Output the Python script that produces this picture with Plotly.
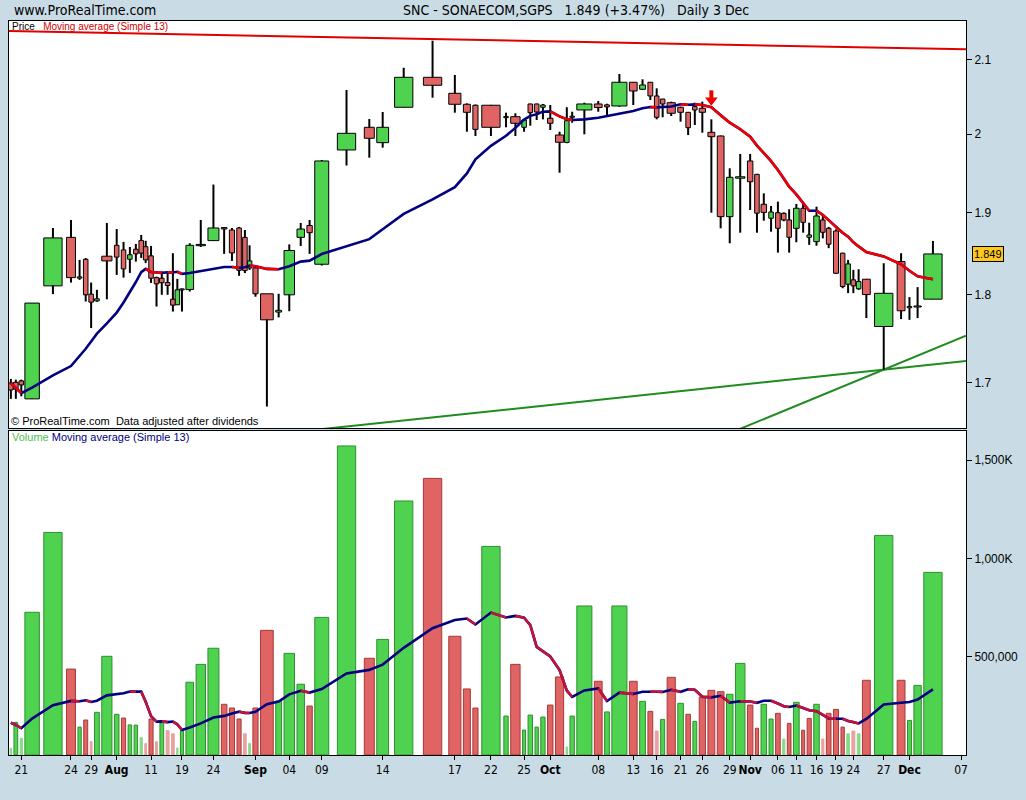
import numpy as np
import pandas as pd
import plotly.graph_objects as go

# ---------------- data (SNC daily, 2008) ----------------
opens = [1.6993, 1.7000, 1.7016, 1.6817, 1.8108, 1.8692, 1.8200, 1.8426, 1.8010, 1.7931,
         1.8463, 1.8595, 1.8539, 1.8426, 1.8547, 1.8652, 1.8578, 1.8467, 1.8206, 1.8199,
         1.8147, 1.7951, 1.7885, 1.8062, 1.8065, 1.8590, 1.8652, 1.8812, 1.8782, 1.8807,
         1.8692, 1.8322, 1.8322, 1.8014, 1.7800, 1.8002, 1.8692, 1.8837, 1.8366, 1.9792,
         2.0088, 1.9887, 2.0353, 2.0756, 2.0540, 2.0393, 2.0380, 2.0380, 2.0215, 2.0228,
         2.0088, 2.0397, 2.0397, 2.0353, 2.0207, 1.9987, 1.9890, 2.0220, 2.0317, 2.0397,
         2.0385, 2.0370, 2.0689, 2.0594, 2.0689, 2.0504, 2.0463, 2.0414, 2.0353, 2.0286,
         2.0361, 2.0340, 2.0022, 1.9974, 1.8947, 1.9430, 1.9650, 1.9479, 1.9101, 1.8927,
         1.8996, 1.8988, 1.8906, 1.8803, 1.9051, 1.8693, 1.8640, 1.8906, 1.8803, 1.8770,
         1.8499, 1.8128, 1.8179, 1.8073, 1.8187, 1.7633, 1.8398, 1.7850, 1.7860, 1.7951]
highs = [1.7038, 1.7030, 1.7030, 1.7905, 1.8807, 1.8906, 1.8418, 1.8440, 1.8147, 1.8061,
         1.8869, 1.8794, 1.8636, 1.8575, 1.8612, 1.8721, 1.8650, 1.8587, 1.8218, 1.8278,
         1.8278, 1.8499, 1.8191, 1.8075, 1.8620, 1.8906, 1.9349, 1.8815, 1.8807, 1.8820,
         1.8782, 1.8595, 1.8340, 1.8014, 1.8014, 1.8606, 1.8869, 1.8906, 1.9663, 2.0584,
         2.0197, 2.0290, 2.0886, 2.1259, 2.0788, 2.0405, 2.0390, 2.0385, 2.0281, 2.0273,
         2.0190, 2.0400, 2.0400, 2.0397, 2.0383, 2.0030, 2.0353, 2.0294, 2.0414, 2.0437,
         2.0400, 2.0801, 2.0692, 2.0729, 2.0692, 2.0607, 2.0465, 2.0428, 2.0360, 2.0290,
         2.0414, 2.0428, 2.0193, 1.9980, 1.9556, 1.9741, 1.9741, 1.9485, 1.9238, 1.9080,
         1.9134, 1.9000, 1.9039, 1.9105, 1.9105, 1.8872, 1.9071, 1.8960, 1.8820, 1.8790,
         1.8505, 1.8418, 1.8298, 1.8306, 1.8190, 1.8378, 1.8499, 1.7975, 1.8093, 1.8648]
lows = [1.6817, 1.6817, 1.6845, 1.6817, 1.8010, 1.8147, 1.8179, 1.7923, 1.7615, 1.7920,
        1.7949, 1.8238, 1.8206, 1.8262, 1.8398, 1.8442, 1.8380, 1.8143, 1.7864, 1.8002,
        1.8002, 1.7806, 1.7885, 1.7806, 1.8040, 1.8575, 1.8648, 1.8491, 1.8406, 1.8227,
        1.8260, 1.8298, 1.7980, 1.6733, 1.7738, 1.7810, 1.8587, 1.8491, 1.8350, 1.9592,
        1.9693, 1.9822, 2.0350, 2.0481, 2.0281, 2.0030, 1.9974, 1.9974, 2.0088, 1.9974,
        2.0030, 2.0109, 2.0184, 2.0193, 2.0052, 1.9500, 1.9880, 2.0148, 1.9996, 2.0294,
        2.0250, 2.0360, 2.0383, 2.0585, 2.0450, 2.0193, 2.0220, 2.0237, 2.0162, 1.9987,
        2.0118, 2.0017, 1.8996, 1.8803, 1.8620, 1.8749, 1.9030, 1.8749, 1.8897, 1.8761,
        1.8506, 1.8890, 1.8506, 1.8632, 1.8749, 1.8600, 1.8590, 1.8680, 1.8560, 1.8250,
        1.8080, 1.8022, 1.8022, 1.8061, 1.7730, 1.7142, 1.7718, 1.7710, 1.7730, 1.7950]
closes = [1.6915, 1.6925, 1.6971, 1.7905, 1.8685, 1.8206, 1.8215, 1.8002, 1.7916, 1.7955,
          1.8406, 1.8452, 1.8310, 1.8480, 1.8491, 1.8500, 1.8418, 1.8199, 1.8132, 1.8145,
          1.8112, 1.7881, 1.8061, 1.8070, 1.8595, 1.8606, 1.8807, 1.8795, 1.8503, 1.8293,
          1.8290, 1.8406, 1.8014, 1.7710, 1.7820, 1.8532, 1.8794, 1.8749, 1.9650, 2.0009,
          1.9944, 2.0088, 2.0756, 2.0648, 2.0393, 2.0286, 2.0061, 2.0088, 2.0230, 2.0141,
          2.0184, 2.0281, 2.0290, 2.0383, 2.0141, 1.9892, 2.0175, 2.0235, 2.0397, 2.0350,
          2.0358, 2.0689, 2.0571, 2.0652, 2.0504, 2.0220, 2.0397, 2.0273, 2.0286, 2.0083,
          2.0317, 2.0286, 1.9965, 1.8947, 1.9441, 1.9448, 1.9385, 1.8990, 1.9000, 1.9005,
          1.8803, 1.8906, 1.8693, 1.9051, 1.8877, 1.8721, 1.8955, 1.8754, 1.8608, 1.8258,
          1.8100, 1.8370, 1.8108, 1.8159, 1.8005, 1.8020, 1.7815, 1.7865, 1.7870, 1.8490]
volume_k = [34, 166, 85, 726, 1132, 437, 142, 178, 68, 217,
            502, 207, 188, 153, 152, 88, 58, 183, 68, 164,
            124, 108, 36, 126, 370, 461, 543, 258, 239, 183,
            108, 59, 239, 634, 275, 517, 360, 249, 700, 1572,
            492, 588, 1292, 1407, 604, 336, 239, 1061, 198, 461,
            127, 203, 142, 193, 254, 397, 41, 198, 758, 375,
            219, 758, 375, 273, 222, 122, 181, 395, 263, 207,
            171, 295, 329, 322, 309, 466, 254, 136, 258, 183,
            212, 81, 161, 268, 126, 186, 258, 81, 212, 232,
            142, 108, 122, 108, 380, 1117, 380, 176, 354, 929]
# sessions before the visible window (only feed the 13-day averages)
pre_closes = [1.758, 1.775, 1.712, 1.690, 1.685, 1.680, 1.688, 1.684, 1.679, 1.686, 1.682, 1.677]
pre_volume_k = [310, 305, 89, 248, 151, 160, 120, 180, 130, 150, 125, 130]

tick_candles = [3, 6, 9, 12, 18, 24, 27, 33, 36, 39, 42, 45, 48, 51, 55,
                60, 63, 66, 69, 72, 75, 77, 81, 84, 87, 90, 93, 96, 98]
tick_labels = ['21', '24', '29', 'Aug', '11', '19', '24', 'Sep', '04', '09', '14', '17', '22', '25', 'Oct',
               '08', '13', '16', '21', '26', '29', 'Nov', '06', '11', '16', '19', '24', '27', 'Dec']
future_label = '07'
months = {'Aug', 'Sep', 'Oct', 'Nov', 'Dec'}
last_price = 1.849
title_text = 'SNC - SONAECOM,SGPS&nbsp;&nbsp;&nbsp;1.849 (+3.47%)&nbsp;&nbsp;&nbsp;Daily 3 Dec'

# trend lines drawn on the chart
red_trend = (2.1395, 2.1139)         # price at left edge, right edge
green_trend_right = [1.7240, 1.7527]  # both start from the 27 Nov low
arrow_candle = 73                     # red signal arrow above this session
arrow_prices = (2.058, 2.047, 2.0425)  # shaft top, shaft bottom / head, tip

# ---------------- layout constants ----------------
W, H = 1026, 800
ML, MR, MT, MB = 8, 51, 21, 45
PW, PH = W - ML - MR, H - MT - MB
K_PER_PX = 51.8      # candle-volume scale: thousand shares per pixel
GAP_K = 3.1 * K_PER_PX   # spacing between candles (in volume units)
BAR_CAP_K = 18.5 * K_PER_PX
MIN_BODY_K = 4.6 * K_PER_PX

BG = '#C9DCE6'
GREEN, RED = '#4FD24F', '#E06464'
GREEN_LN, RED_LN = '#2F8F2F', '#A53A3A'
GREEN_LT, RED_LT = '#86DA86', '#E8A0A0'
NAVY = '#000080'
NARROW = 'Liberation Sans Narrow, Arial Narrow, DejaVu Sans Condensed, sans-serif'
SANS = 'Liberation Sans, Arial, sans-serif'


def px_x(px):
    return (px - ML) / PW


def px_y(py):
    return (H - MB - py) / PH


O = np.array(opens); Hh = np.array(highs); L = np.array(lows); C = np.array(closes)
V = np.array(volume_k, dtype=float)
n = len(C)

slot = V + GAP_K
cum = np.cumsum(slot)
xc = cum - slot / 2
bar_w = np.minimum(V + 0.6 * K_PER_PX, BAR_CAP_K)
body_w = np.maximum(bar_w, MIN_BODY_K)
xr = [0, PW * K_PER_PX]

all_c = pd.Series(pre_closes + closes)
ma_p = all_c.rolling(13).mean().to_numpy()[-n:]
all_v = pd.Series(pre_volume_k + volume_k, dtype=float)
ma_v = all_v.rolling(13).mean().to_numpy()[-n:] * 1000

prev_close = np.concatenate([[pre_closes[-1]], C[:-1]])
vol_up = C >= prev_close
light = V < 125

fig = go.Figure()

# trend lines (price panel)
fig.add_trace(go.Scatter(x=xr, y=list(red_trend), mode='lines',
                         line=dict(color='#E00000', width=2), hoverinfo='skip'))
ax_, ay_ = xc[95], lows[95]
for pr in green_trend_right:
    slope = (np.log10(pr) - np.log10(ay_)) / (xr[1] - ax_)
    xs = np.array([0, xr[1]])
    ys = 10 ** (np.log10(ay_) + slope * (xs - ax_))
    fig.add_trace(go.Scatter(x=xs, y=ys, mode='lines', line=dict(color='#1E8C1E', width=2),
                             hoverinfo='skip'))

# wicks
wx, wy = [], []
for i in range(n):
    wx += [xc[i], xc[i], None]
    wy += [L[i], Hh[i], None]
fig.add_trace(go.Scatter(x=wx, y=wy, mode='lines', line=dict(color='black', width=2),
                         hoverinfo='skip'))

# bodies
up = C >= O
for col, sel in ((GREEN, up), (RED, ~up)):
    bx, by = [], []
    for i in np.where(sel)[0]:
        hw = body_w[i] / 2
        lo, hi = min(O[i], C[i]), max(O[i], C[i])
        if hi - lo < 0.0012:
            mid = (hi + lo) / 2
            lo, hi = mid - 0.0006, mid + 0.0006
        bx += [xc[i] - hw, xc[i] + hw, xc[i] + hw, xc[i] - hw, xc[i] - hw, None]
        by += [lo, lo, hi, hi, lo, None]
    fig.add_trace(go.Scatter(x=bx, y=by, mode='lines', fill='toself', fillcolor=col,
                             line=dict(color='black', width=1), hoverinfo='skip'))


def ma_traces(x, y, up_col, down_col, xa, ya):
    fig.add_trace(go.Scatter(x=x, y=y, mode='lines', line=dict(color=up_col, width=2.6),
                             xaxis=xa, yaxis=ya, hoverinfo='skip'))
    rx, ry = [], []
    for i in range(len(y) - 1):
        if y[i + 1] < y[i]:
            rx += [x[i], x[i + 1], None]
            ry += [y[i], y[i + 1], None]
    fig.add_trace(go.Scatter(x=rx, y=ry, mode='lines', line=dict(color=down_col, width=2.6),
                             xaxis=xa, yaxis=ya, hoverinfo='skip', connectgaps=False))


ma_traces(xc, ma_p, NAVY, '#F00000', 'x', 'y')

# red signal arrow
axc = xc[arrow_candle - 1]
fig.add_trace(go.Scatter(x=[axc, axc], y=list(arrow_prices[:2]), mode='lines',
                         line=dict(color='#EE0000', width=4), hoverinfo='skip'))
fig.add_trace(go.Scatter(x=[axc], y=[np.sqrt(arrow_prices[1] * arrow_prices[2])], mode='markers',
                         marker=dict(symbol='triangle-down', size=11, color='#EE0000',
                                     line=dict(width=0)), hoverinfo='skip'))

# volume bars
fills = [(GREEN_LT if light[i] else GREEN) if vol_up[i] else (RED_LT if light[i] else RED) for i in range(n)]
lines = [(GREEN_LT if light[i] else GREEN_LN) if vol_up[i] else (RED_LT if light[i] else RED_LN) for i in range(n)]
fig.add_trace(go.Bar(x=xc, y=V * 1000, width=bar_w, marker=dict(color=fills, line=dict(color=lines, width=1)),
                     xaxis='x2', yaxis='y2', hoverinfo='skip'))
ma_traces(xc, ma_v, NAVY, '#C0143C', 'x2', 'y2')

# ticks
tickvals = [xc[k - 1] for k in tick_candles] + [cum[-1] + 1.9 * cum[-1] / n]
ticktext = [('<b>%s</b>' % t if t in months else t) for t in tick_labels] + [future_label]

p_lo, p_hi = 1.64994, 2.15352
axis_common = dict(showgrid=False, zeroline=False, showline=True, mirror=True,
                   linecolor='black', linewidth=1)
fig.update_layout(
    width=W, height=H, margin=dict(l=ML, r=MR, t=MT, b=MB),
    paper_bgcolor=BG, plot_bgcolor='white', showlegend=False, hovermode=False,
    xaxis=dict(domain=[0, 1], range=xr, anchor='y', showticklabels=False, ticks='', **axis_common),
    yaxis=dict(domain=[px_y(428), 1], type='log', range=[np.log10(p_lo), np.log10(p_hi)],
               side='right', anchor='x', tickvals=[1.7, 1.8, 1.9, 2.0, 2.1],
               ticktext=['1.7', '1.8', '1.9', '2', '2.1'], ticks='outside', ticklen=5,
               tickcolor='black', tickfont=dict(family=SANS, size=12, color='black'), **axis_common),
    xaxis2=dict(domain=[0, 1], range=xr, anchor='y2', tickvals=tickvals, ticktext=ticktext,
                ticks='outside', ticklen=4, tickcolor='black', tickangle=0,
                tickfont=dict(family=NARROW, size=12, color='black'), **axis_common),
    yaxis2=dict(domain=[0, px_y(431)], range=[0, 1648e3], side='right', anchor='x2',
                tickvals=[5e5, 1e6, 1.5e6], ticktext=['500,000', '1,000K', '1,500K'],
                ticks='outside', ticklen=5, tickcolor='black',
                tickfont=dict(family=SANS, size=12, color='black'), **axis_common),
)

ann = [
    dict(x=px_x(11), y=px_y(10), xref='paper', yref='paper', xanchor='left', yanchor='middle',
         text='www.ProRealTime.com', showarrow=False, font=dict(family=NARROW, size=14, color='black')),
    dict(x=px_x(581), y=px_y(10), xref='paper', yref='paper', xanchor='center', yanchor='middle',
         text=title_text, showarrow=False, font=dict(family=NARROW, size=14, color='black')),
    dict(x=px_x(9), y=px_y(26), xref='paper', yref='paper', xanchor='left', yanchor='middle',
         text='Price&nbsp;&nbsp;&nbsp;<span style="color:#D00000">Moving average (Simple 13)</span>',
         showarrow=False, font=dict(family=SANS, size=10, color='black')),
    dict(x=px_x(8), y=px_y(421), xref='paper', yref='paper', xanchor='left', yanchor='middle',
         text='© ProRealTime.com&nbsp;&nbsp;Data adjusted after dividends', showarrow=False,
         font=dict(family=SANS, size=11, color='black')),
    dict(x=px_x(9), y=px_y(437), xref='paper', yref='paper', xanchor='left', yanchor='middle',
         text='<span style="color:#4DBF4D">Volume</span> <span style="color:#000080">Moving average (Simple 13)</span>',
         showarrow=False, font=dict(family=SANS, size=11)),
    dict(x=1, y=np.log10(last_price), xref='paper', yref='y', xanchor='left', yanchor='middle',
         xshift=6, text='1.849', showarrow=False, bgcolor='#FFC81E', bordercolor='black',
         borderwidth=1, borderpad=1, font=dict(family=SANS, size=11, color='black')),
]
fig.update_layout(annotations=ann)

fig.write_html('out.html', config={'displayModeBar': False},
               post_script="document.body.style.margin='0px';document.body.style.overflow='hidden';")
